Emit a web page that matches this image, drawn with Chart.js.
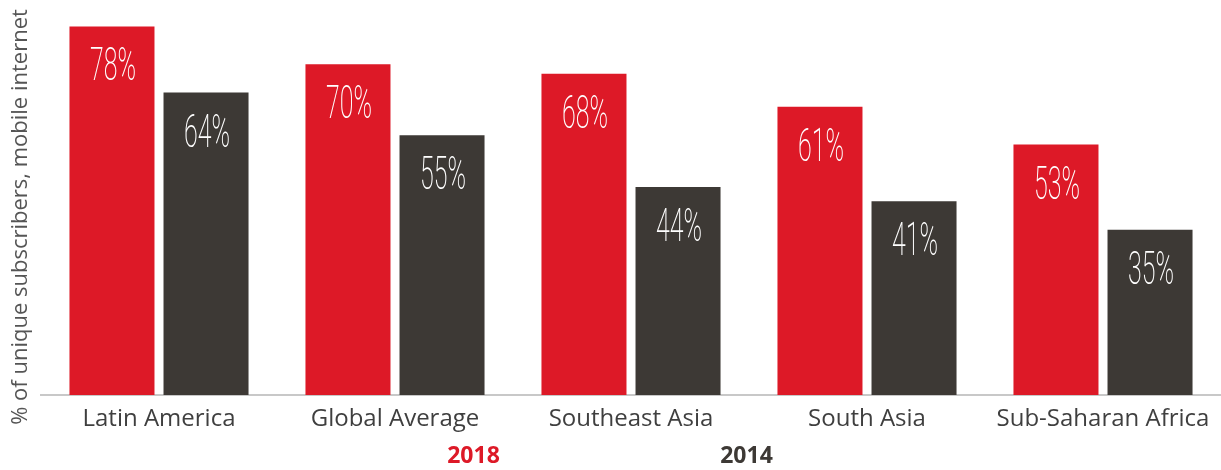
<!DOCTYPE html>
<html>
<head>
<meta charset="utf-8">
<script src="https://cdn.jsdelivr.net/npm/chart.js@4/dist/chart.umd.min.js"></script>
<style>
  html, body { margin: 0; padding: 0; background: #ffffff; }
  #wrap { width: 1221px; height: 470px; position: relative; }
</style>
</head>
<body>
<div id="wrap"><canvas id="c"></canvas></div>
<script>
const categories = ['Latin America', 'Global Average', 'Southeast Asia', 'South Asia', 'Sub-Saharan Africa'];
const seriesNames = ['2018', '2014'];
const values2018 = [78, 70, 68, 61, 53];
const values2014 = [64, 55, 44, 41, 35];
const yTitle = '% of unique subscribers, mobile internet';

const RED = '#dd1927';
const DARK = '#3d3935';
const TEXT = '#3f3f3f';

const barLabels = {
  id: 'barLabels',
  afterDatasetsDraw(chart) {
    const ctx = chart.ctx;
    chart.data.datasets.forEach((ds, di) => {
      const meta = chart.getDatasetMeta(di);
      meta.data.forEach((bar, i) => {
        const txt = ds.data[i] + '%';
        ctx.save();
        ctx.font = '200 47px Roboto';
        ctx.fillStyle = '#ffffff';
        ctx.textAlign = 'center';
        ctx.textBaseline = 'alphabetic';
        ctx.translate(bar.x + 1, bar.y + 54);
        ctx.scale(0.53, 1);
        ctx.fillText(txt, 0, 0);
        ctx.restore();
      });
    });
  }
};

// The reference's axis title sits a little lower than the plot's centre:
// extend the y scale's drawing box downward only while it is drawn.
const titleShift = {
  id: 'titleShift',
  beforeDraw(chart) {
    const y = chart.scales.y;
    y._origBottom = y.bottom;
    y.bottom = y.bottom + 22;
  },
  afterDraw(chart) {
    const y = chart.scales.y;
    if (y._origBottom !== undefined) { y.bottom = y._origBottom; }
  }
};

// Legend text drawn below the axis (series names coloured like their bars)
const bottomLegend = {
  id: 'bottomLegend',
  afterDraw(chart) {
    const ctx = chart.ctx;
    const cx = chart.width / 2;
    const offsets = [-137, 136];
    ctx.save();
    ctx.font = 'bold 23px "Open Sans"';
    ctx.textAlign = 'center';
    ctx.textBaseline = 'alphabetic';
    chart.data.datasets.forEach((ds, i) => {
      ctx.fillStyle = ds.backgroundColor;
      ctx.fillText(ds.label, cx + offsets[i], 463);
    });
    ctx.restore();
  }
};

new Chart(document.getElementById('c'), {
  type: 'bar',
  data: {
    labels: categories,
    datasets: [
      { label: seriesNames[0], data: values2018, backgroundColor: RED, categoryPercentage: 0.797, barPercentage: 0.904 },
      { label: seriesNames[1], data: values2014, backgroundColor: DARK, categoryPercentage: 0.797, barPercentage: 0.904 }
    ]
  },
  options: {
    responsive: true,
    maintainAspectRatio: false,
    animation: false,
    layout: { padding: { top: 17, left: 0, right: 0, bottom: 30 } },
    plugins: {
      tooltip: { enabled: false },
      legend: { display: false }
    },
    scales: {
      x: {
        grid: { display: false, drawTicks: false },
        border: { display: true, color: '#c8c8c8', width: 2 },
        ticks: { color: TEXT, padding: 10, font: { family: 'Open Sans', size: 24 } },
        afterFit(scale) { scale.height = 45; }
      },
      y: {
        min: 0,
        max: 80,
        grid: { display: false, drawTicks: false },
        border: { display: false },
        ticks: { display: false },
        title: {
          display: true,
          text: yTitle,
          color: '#555555',
          padding: { top: 8, bottom: 0 },
          font: { family: 'Open Sans', size: 22 }
        },
        afterFit(scale) { scale.width = 41; }
      }
    }
  },
  plugins: [barLabels, titleShift, bottomLegend]
});
</script>
</body>
</html>
